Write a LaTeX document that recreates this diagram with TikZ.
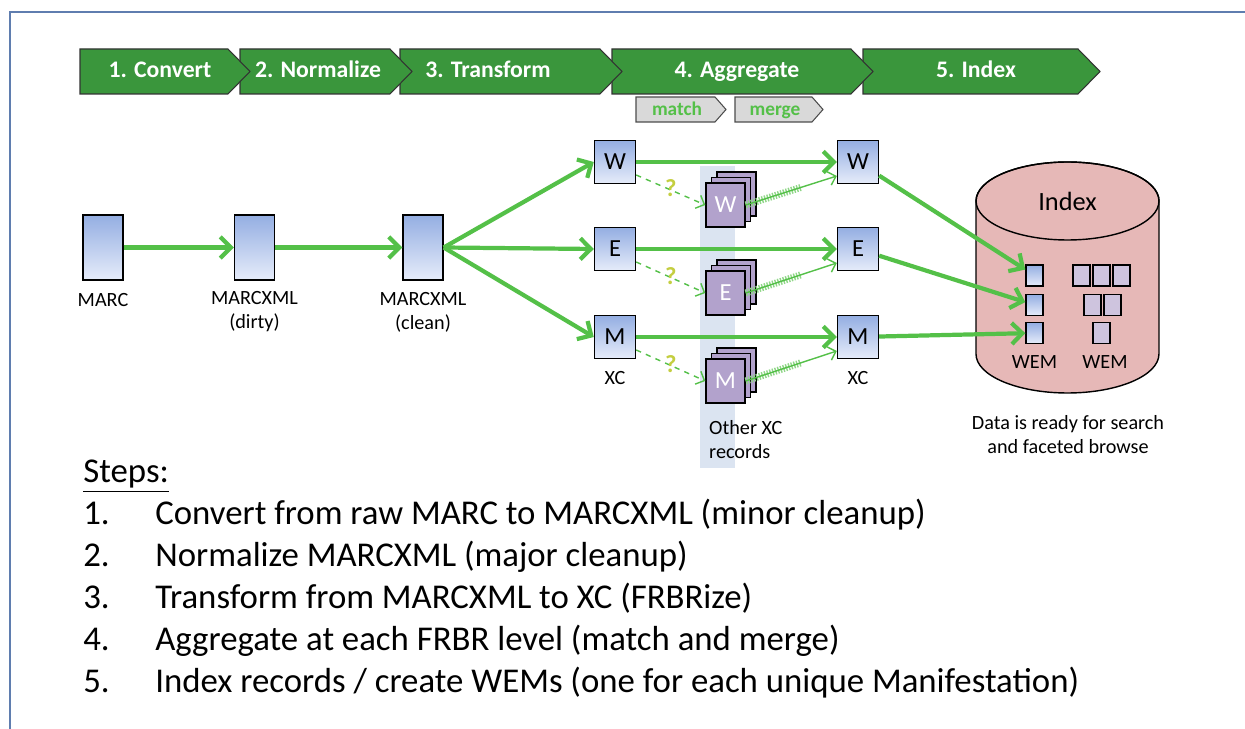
\documentclass[tikz,border=0pt]{standalone}
\usepackage{fontspec}
\setmainfont{Carlito}
\usetikzlibrary{arrows.meta, positioning}
\usepackage{xcolor}
\definecolor{chevgreen}{RGB}{58,150,60}
\definecolor{arrgreen}{RGB}{84,192,72}
\definecolor{docblue}{RGB}{148,174,226}
\definecolor{doclight}{RGB}{230,236,250}
\definecolor{stackpurple}{RGB}{178,162,204}
\definecolor{wempurple}{RGB}{206,196,222}
\definecolor{idxpink}{RGB}{230,184,183}
\definecolor{bandblue}{RGB}{219,228,241}
\definecolor{framebl}{RGB}{95,125,175}
\definecolor{qyellow}{RGB}{196,206,64}

\begin{document}
\begin{tikzpicture}[x=0.02cm, y=0.02cm, >={Straight Barb[length=6pt,width=12pt]}]
    \tikzstyle{chev}=[fill=chevgreen, draw=black!80, line width=0.6pt]
    \tikzstyle{chev text}=[anchor=base, text=white, font=\fontsize{13.5}{15}\selectfont\bfseries]
    \tikzstyle{sub chev}=[fill=black!15, draw=black!70, line width=0.6pt]
    \tikzstyle{sub text}=[anchor=base, text=arrgreen, font=\fontsize{11}{13}\selectfont\bfseries]
    \tikzstyle{doc}=[draw=black, line width=0.8pt, top color=docblue, bottom color=doclight, inner sep=0pt]
    \tikzstyle{rec}=[doc, minimum width=0.8cm, minimum height=1.3cm]
    \tikzstyle{xc}=[doc, minimum width=0.82cm, minimum height=0.86cm, font=\fontsize{14}{16}\selectfont]
    \tikzstyle{stack}=[draw=black, line width=0.8pt, fill=stackpurple, inner sep=0pt, minimum width=0.78cm, minimum height=0.88cm, text=white, font=\fontsize{14}{16}\selectfont]
    \tikzstyle{wem}=[doc, minimum width=0.34cm, minimum height=0.42cm]
    \tikzstyle{wem other}=[wem, fill=wempurple, top color=wempurple, bottom color=wempurple]
    \tikzstyle{lbl}=[font=\fontsize{11.5}{13.6}\selectfont, align=center]
    \tikzstyle{flow}=[->, draw=arrgreen, line width=2.4pt]
    \tikzstyle{maybe}=[->, draw=arrgreen, line width=0.8pt, dashed, >={Straight Barb[length=4pt,width=8pt]}]
    \tikzstyle{dup}=[->, draw=arrgreen, line width=0.8pt, >={Straight Barb[length=4pt,width=8pt]}]
    \tikzstyle{hatch}=[draw=arrgreen!65, line width=4pt, dash pattern=on 0.8pt off 0.8pt]
    \tikzstyle{item}=[anchor=base west, inner sep=0pt, font=\fontsize{19.8}{23}\selectfont]

    \useasboundingbox (0,0) rectangle (1245,-729);
    \draw[framebl, line width=1pt] (10,-729) -- (10,-12) -- (1245,-12);

    % process chevrons, last first so each tip lies on the next one
    \foreach \xa/\xb in {863/1100, 612/873, 400/622, 240/412, 80/250}
        \draw[chev] (\xa,-49) -- (\xb-22,-49) -- (\xb,-71.5) -- (\xb-22,-94) -- (\xa,-94) -- cycle;
    \node[chev text] (conv) at (160,-78) {1. Convert};
    \node[chev text] (norm) at (318,-78) {2. Normalize};
    \node[chev text] (trans) at (488,-78) {3. Transform};
    \node[chev text] (aggr) at (737,-78) {4. Aggregate};
    \node[chev text] (index) at (976,-78) {5. Index};

    \draw[sub chev] (636,-97) -- (715,-97) -- (726,-109.5) -- (715,-122) -- (636,-122) -- cycle;
    \draw[sub chev] (735,-97) -- (812,-97) -- (823,-109.5) -- (812,-122) -- (735,-122) -- cycle;
    \node[sub text] (match) at (677,-116) {match};
    \node[sub text] (merge) at (775,-116) {merge};

    % other records column
    \fill[bandblue] (700,-166) rectangle (735,-468);

    \node[rec] (marc) at (103,-247.5) {};
    \node[rec] (dirty) at (254.5,-247.5) {};
    \node[rec] (clean) at (423,-247.5) {};
    \node[lbl] (marc-l) at (103,-300) {MARC};
    \node[lbl] (dirty-l) at (254.5,-312) {MARCXML\\(dirty)};
    \node[lbl] (clean-l) at (423,-312) {MARCXML\\(clean)};

    \node[xc] (W1) at (615,-162) {W};
    \node[xc] (E1) at (615,-249) {E};
    \node[xc] (M1) at (615,-337) {M};
    \node[xc] (W2) at (858,-162) {W};
    \node[xc] (E2) at (858,-249) {E};
    \node[xc] (M2) at (858,-337) {M};
    \node[lbl] (xc-1) at (615,-378) {XC};
    \node[lbl] (xc-2) at (858,-378) {XC};

    \foreach \n/\y in {W/205, E/293, M/381} {
        \node[stack] (\n-b2) at (736.5,-\y+11) {};
        \node[stack] (\n-b1) at (731,-\y+5.5) {};
        \node[stack] (\n-s) at (725.5,-\y) {\n};
    }
    \node[lbl, align=left, anchor=west] (other) at (703,-440) {Other XC\\records};

    \path[flow] (marc) edge (dirty);
    \path[flow] (dirty) edge (clean);
    \draw[flow] (clean.east) -- (W1.west);
    \draw[flow] (clean.east) -- (E1.west);
    \draw[flow] (clean.east) -- (M1.west);
    \path[flow] (W1) edge (W2);
    \path[flow] (E1) edge (E2);
    \path[flow] (M1) edge (M2);

    \foreach \n in {W, E, M} {
        \draw[maybe] ([yshift=-0.26cm]\n1.east) -- (\n-s.west)
            node[midway, yshift=1pt, text=qyellow, font=\fontsize{14}{16}\selectfont\bfseries] {?};
        \draw[hatch, shorten >=0.75cm] (\n-s.east) -- ([yshift=-0.28cm]\n2.west);
        \draw[dup] (\n-s.east) -- ([yshift=-0.28cm]\n2.west);
    }

    % index store
    \draw[fill=idxpink, line width=0.8pt] (976,-201) -- (976,-354) arc (180:360:1.83cm and 0.78cm)
        -- (1159,-201) arc (0:180:1.83cm and 0.78cm) -- cycle;
    \draw[line width=0.8pt] (1067.5,-201) ellipse (1.83cm and 0.78cm);
    \node[font=\fontsize{15}{17}\selectfont] (idx) at (1067.5,-201) {Index};

    \node[wem] (sq1) at (1034.5,-275.5) {};
    \node[wem] (sq2) at (1034.5,-305) {};
    \node[wem] (sq3) at (1034.5,-333) {};
    \node[wem other] (p1) at (1081.5,-275.5) {};
    \node[wem other] (p2) at (1101.5,-275.5) {};
    \node[wem other] (p3) at (1121.5,-275.5) {};
    \node[wem other] (p4) at (1092.5,-305) {};
    \node[wem other] (p5) at (1112.5,-305) {};
    \node[wem other] (p6) at (1101.5,-333) {};
    \node[lbl] (wem-1) at (1034.5,-362) {WEM};
    \node[lbl] (wem-2) at (1105,-362) {WEM};
    \node[lbl] (ready) at (1068,-435) {Data is ready for search\\and faceted browse};

    \draw[flow] (W2) -- (sq1);
    \draw[flow] (E2) -- (sq2);
    \draw[flow] (M2) -- (sq3);

    % step list
    \node[item] (steps) at (83,-483) {\underline{Steps:}};
    \node[item] (n1) at (83,-525) {1.};
    \node[item] (t1) at (155,-525) {Convert from raw MARC to MARCXML (minor cleanup)};
    \node[item] (n2) at (83,-567) {2.};
    \node[item] (t2) at (155,-567) {Normalize MARCXML (major cleanup)};
    \node[item] (n3) at (83,-608) {3.};
    \node[item] (t3) at (155,-608) {Transform from MARCXML to XC (FRBRize)};
    \node[item] (n4) at (83,-650) {4.};
    \node[item] (t4) at (155,-650) {Aggregate at each FRBR level (match and merge)};
    \node[item] (n5) at (83,-692) {5.};
    \node[item] (t5) at (155,-692) {Index records / create WEMs (one for each unique Manifestation)};
\end{tikzpicture}
\end{document}
